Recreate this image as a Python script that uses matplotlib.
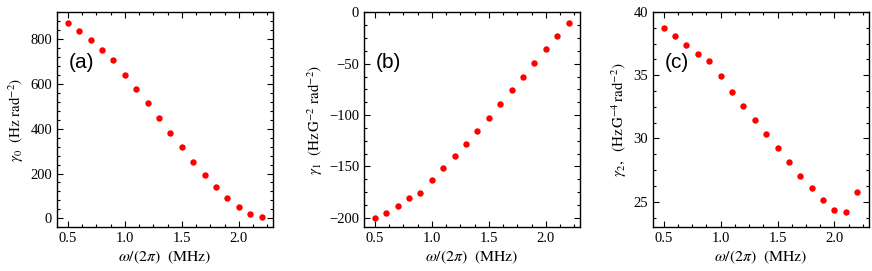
import matplotlib
matplotlib.use("Agg")
import matplotlib.pyplot as plt
from matplotlib.ticker import MultipleLocator

plt.rcParams['font.family'] = ['Liberation Serif', 'DejaVu Serif']
plt.rcParams['mathtext.fontset'] = 'stix'

# data
freq = [0.5, 0.6, 0.7, 0.8, 0.9, 1.0, 1.1, 1.2, 1.3, 1.4,
        1.5, 1.6, 1.7, 1.8, 1.9, 2.0, 2.1, 2.2]
gamma0 = [874, 839, 798, 751, 709, 642, 576, 514, 448, 383,
          317, 252, 194, 139, 89, 51, 21, 5]
gamma1 = [-200.6, -195.1, -188.3, -180.9, -176.1, -163.4, -151.1, -139.8, -127.8, -115.5,
          -102.9, -89.6, -76.1, -62.8, -49.5, -36.2, -23.0, -10.4]
gamma2 = [38.77, 38.12, 37.43, 36.68, 36.15, 34.92, 33.66, 32.59, 31.49, 30.37,
          29.27, 28.17, 27.07, 26.10, 25.13, 24.32, 24.16, 25.79]

panels = [
    (gamma0, r'$\gamma_0\ \ \left(\mathrm{Hz\ rad^{-2}}\right)$', (-39, 922), 200, 40, '(a)'),
    (gamma1, r'$\gamma_1\ \ \left(\mathrm{Hz\,G^{-2}\ rad^{-2}}\right)$', (-209, 0.3), 50, 12.5, '(b)'),
    (gamma2, r'$\gamma_{2},\ \ \left(\mathrm{Hz\,G^{-4}\,rad^{-2}}\right)$', (23, 40), 5, 1.25, '(c)'),
]
lefts = [0.0654, 0.4174, 0.7485]

fig = plt.figure(figsize=(8.72, 2.71), dpi=100)
for (vals, ylab, ylim, major, minor, tag), left in zip(panels, lefts):
    ax = fig.add_axes([left, 0.1624, 0.2477, 0.7933])
    ax.plot(freq, vals, 'o', color='#ff0000', ms=4.6, mec='none')
    ax.set_xlim(0.405, 2.30)
    ax.set_ylim(*ylim)
    ax.xaxis.set_major_locator(MultipleLocator(0.5))
    ax.xaxis.set_minor_locator(MultipleLocator(0.125))
    ax.yaxis.set_major_locator(MultipleLocator(major))
    ax.yaxis.set_minor_locator(MultipleLocator(minor))
    ax.xaxis.set_major_formatter(matplotlib.ticker.FormatStrFormatter('%.1f'))
    ax.tick_params(which='both', direction='in', top=True, right=True, labelsize=10.5, width=0.8)
    ax.tick_params(which='major', length=4)
    ax.tick_params(which='minor', length=2)
    for s in ax.spines.values():
        s.set_linewidth(1.0)
    ax.set_xlabel(r'$\omega/(2\pi)\ \ (\mathrm{MHz})$', fontsize=11.3, labelpad=3)
    ax.set_ylabel(ylab, fontsize=10.8, labelpad=3)
    ax.text(0.055, 0.72, tag, transform=ax.transAxes, fontsize=15,
            family='Liberation Sans', va='bottom')

fig.savefig('out.png', dpi=100)
